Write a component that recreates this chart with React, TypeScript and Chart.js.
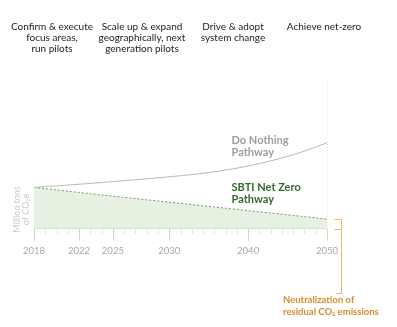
import React, { useEffect, useRef } from "react";
import { Chart, registerables } from "chart.js";

Chart.register(...registerables);

const xLabels = ["2018", "", "", "", "2022", "", "", "2025", "", "", "", "", "2030", "", "", "", "", "", "", "2040", "", "", "", "", "", "", "2050"];
const doNothing = [41, 41.8, 42.6, 43.4, 44.2, 45, 45.9, 46.8, 47.7, 48.6, 49.6, 50.6, 51.6, 52.7, 53.8, 55.1, 56.6, 58.3, 60.2, 62.4, 64.8, 67.4, 70.4, 73.6, 77.2, 81.2, 85.5];
const netZero = [41, 39.8, 38.5, 37.2, 36, 34.7, 33.5, 32.3, 31.1, 29.9, 28.7, 27.5, 26.3, 25.1, 23.9, 22.7, 21.5, 20.3, 19.1, 17.9, 16.7, 15.5, 14.3, 13.1, 11.9, 10.7, 9.5];
const phaseHeaders = [
  ["Confirm & execute", "focus areas,", "run pilots"],
  ["Scale up & expand", "geographically, next", "generation pilots"],
  ["Drive & adopt", "system change"],
  ["Achieve net-zero"],
];
const phaseCenters = [52, 142, 233, 324];
const yTitle = ["Million tons", "of CO₂e"];
const doNothingLabel = ["Do Nothing", "Pathway"];
const netZeroLabel = ["SBTI Net Zero", "Pathway"];
const neutralLabel = ["Neutralization of", "residual CO₂ emissions"];

const overlay = {
  id: "overlay",
  afterDraw(chart: any) {
    const { ctx, chartArea, scales } = chart;
    const xs = scales.x;
    const ys = scales.y;
    const bottom = chartArea.bottom;
    ctx.save();
    // ticks
    for (let i = 0; i < xLabels.length; i++) {
      const px = Math.round(xs.getPixelForTick(i)) + 0.5;
      const major = xLabels[i] !== "";
      ctx.strokeStyle = major ? "#c6dcc1" : "#d6e6d2";
      ctx.lineWidth = 1;
      ctx.beginPath();
      ctx.moveTo(px, bottom);
      ctx.lineTo(px, bottom + (major ? 12 : 5));
      ctx.stroke();
    }
    // vertical dotted at 2050
    const lastX = Math.round(xs.getPixelForTick(xLabels.length - 1)) + 0.5;
    ctx.strokeStyle = "#e2e2e2";
    ctx.setLineDash([1, 2]);
    ctx.beginPath();
    ctx.moveTo(lastX, chartArea.top);
    ctx.lineTo(lastX, bottom);
    ctx.stroke();
    ctx.setLineDash([]);

    // y title
    ctx.save();
    ctx.translate(21, ys.getPixelForValue(19));
    ctx.rotate(-Math.PI / 2);
    ctx.fillStyle = "#c9c9c9";
    ctx.font = "9px Lato";
    ctx.textAlign = "center";
    ctx.textBaseline = "middle";
    ctx.fillText(yTitle[0], 0, -4);
    ctx.fillText(yTitle[1], 0, 5);
    ctx.restore();

    // labels
    const lx = xs.getPixelForTick(17) + 6;
    ctx.font = "bold 11px Lato";
    ctx.textBaseline = "middle";
    ctx.textAlign = "left";
    ctx.fillStyle = "#9d9d9d";
    ctx.fillText(doNothingLabel[0], lx, ys.getPixelForValue(88));
    ctx.fillText(doNothingLabel[1], lx, ys.getPixelForValue(76));
    ctx.fillStyle = "#2f6b2c";
    ctx.fillText(netZeroLabel[0], lx, ys.getPixelForValue(41));
    ctx.fillText(netZeroLabel[1], lx, ys.getPixelForValue(29));

    // orange bracket
    const bx = lastX + 14;
    const topY = Math.round(ys.getPixelForValue(netZero[netZero.length - 1])) + 0.5;
    const axY = Math.round(bottom) + 0.5;
    const endY = axY + 64;
    ctx.strokeStyle = "#efb66a";
    ctx.lineWidth = 1;
    ctx.beginPath();
    ctx.moveTo(lastX + 7, topY);
    ctx.lineTo(bx, topY);
    ctx.lineTo(bx, endY);
    ctx.lineTo(bx - 6, endY);
    ctx.moveTo(lastX + 7, axY);
    ctx.lineTo(bx, axY);
    ctx.stroke();
    ctx.fillStyle = "#d98a2b";
    ctx.font = "bold 9.5px Lato";
    ctx.textAlign = "left";
    ctx.fillText(neutralLabel[0], 283, endY + 6);
    ctx.fillText(neutralLabel[1], 283, endY + 18);
    ctx.restore();
  },
};

export default function App() {
  const ref = useRef<HTMLCanvasElement | null>(null);
  useEffect(() => {
    if (!ref.current) return;
    const chart = new Chart(ref.current, {
      type: "line",
      data: {
        labels: xLabels,
        datasets: [
          {
            label: "Do Nothing",
            data: doNothing,
            borderColor: "#b5b5b5",
            borderWidth: 1,
            pointRadius: 0,
            tension: 0.4,
            fill: false,
          },
          {
            label: "SBTI Net Zero",
            data: netZero,
            borderColor: "#6f9a69",
            borderWidth: 1,
            borderDash: [2, 2],
            pointRadius: 0,
            tension: 0.3,
            fill: "origin",
            backgroundColor: "rgba(226,238,221,0.85)",
          },
        ],
      },
      options: {
        responsive: false,
        animation: false,
        layout: { padding: { left: 34, right: 70, top: 78, bottom: 53 } },
        plugins: { legend: { display: false }, tooltip: { enabled: false } },
        scales: {
          x: {
            type: "category",
            offset: false,
            grid: { display: false, drawTicks: false },
            border: { display: true, color: "#cfe3ca", width: 1 },
            ticks: {
              autoSkip: false,
              maxRotation: 0,
              minRotation: 0,
              padding: 17,
              color: "#a8a8a8",
              font: { family: "Lato", size: 9.5 },
            },
          },
          y: {
            display: false,
            min: 0,
            max: 150,
          },
        },
      },
      plugins: [overlay],
    });
    return () => chart.destroy();
  }, []);

  return (
    <div style={{ position: "absolute", left: 0, top: 0, width: 397, height: 327, background: "#fff" }}>
      <canvas ref={ref} width={397} height={327} style={{ position: "absolute", left: 0, top: 0 }} />
      {phaseHeaders.map((lines, i) => (
        <div
          key={i}
          style={{
            position: "absolute",
            left: phaseCenters[i] - 60,
            top: 21,
            width: 120,
            textAlign: "center",
            fontFamily: "Lato, sans-serif",
            fontSize: 10,
            lineHeight: "11px",
            color: "#222",
          }}
        >
          {lines.map((l, j) => (
            <div key={j}>{l}</div>
          ))}
        </div>
      ))}
    </div>
  );
}
